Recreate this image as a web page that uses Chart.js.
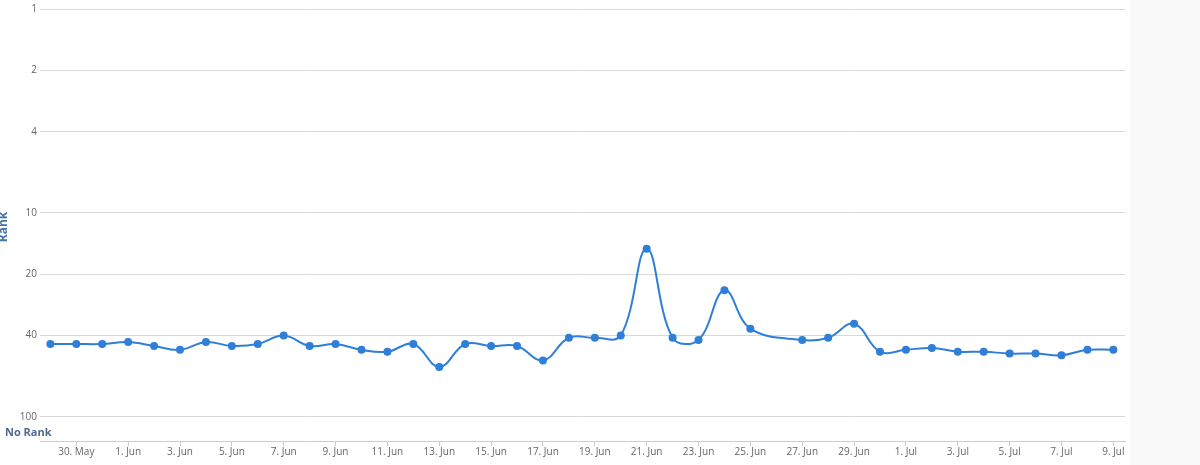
<!DOCTYPE html>
<html>
<head>
<meta charset="utf-8">
<script src="https://cdn.jsdelivr.net/npm/chart.js@4/dist/chart.umd.min.js"></script>
<style>
  html, body { margin: 0; padding: 0; }
  body { background: linear-gradient(to right, #ffffff 1130px, #f9f9f9 1130px); }
  .chart { position: relative; width: 1200px; height: 465px; }
</style>
</head>
<body>
<div class="chart">
  <canvas id="rankChart"></canvas>
</div>
<script>
// one point per day, 29 May .. 9 Jul (26 Jun has no rank)
const dates = [
  '29. May', '30. May', '31. May',
  '1. Jun', '2. Jun', '3. Jun', '4. Jun', '5. Jun', '6. Jun', '7. Jun', '8. Jun', '9. Jun', '10. Jun',
  '11. Jun', '12. Jun', '13. Jun', '14. Jun', '15. Jun', '16. Jun', '17. Jun', '18. Jun', '19. Jun', '20. Jun',
  '21. Jun', '22. Jun', '23. Jun', '24. Jun', '25. Jun', '26. Jun', '27. Jun', '28. Jun', '29. Jun', '30. Jun',
  '1. Jul', '2. Jul', '3. Jul', '4. Jul', '5. Jul', '6. Jul', '7. Jul', '8. Jul', '9. Jul'
];
const ranks = [
  44, 44, 44,
  43, 45, 47, 43, 45, 44, 40, 45, 44, 47,
  48, 44, 57, 44, 45, 45, 53, 41, 41, 40,
  15, 41, 42, 24, 37, null, 42, 41, 35, 48,
  47, 46, 48, 48, 49, 49, 50, 47, 47
];
const rankTicks = [1, 2, 4, 10, 20, 40, 100];
const noRankLabel = 'No Rank';
const noRankValue = 120;

const lineColor = '#2f7ed8';
const axisFont = { family: 'Open Sans, sans-serif', size: 10 };

const extraLabels = {
  id: 'extraLabels',
  afterDraw(chart) {
    const ctx = chart.ctx;
    const y = chart.scales.y;
    ctx.save();
    ctx.font = 'bold 11px Open Sans, sans-serif';
    ctx.fillStyle = '#4d6a8f';
    ctx.textAlign = 'left';
    ctx.textBaseline = 'middle';
    ctx.fillText(noRankLabel, 5, y.getPixelForValue(noRankValue));
    // axis title, half cut off at the left edge
    ctx.translate(7, (chart.chartArea.top + chart.chartArea.bottom) / 2 + 2);
    ctx.rotate(-Math.PI / 2);
    ctx.textAlign = 'center';
    ctx.textBaseline = 'alphabetic';
    ctx.fillStyle = '#4572a7';
    ctx.font = 'bold 12px Open Sans, sans-serif';
    ctx.fillText('Rank', 0, 0);
    ctx.restore();
  }
};

new Chart(document.getElementById('rankChart'), {
  type: 'line',
  data: {
    datasets: [{
      label: 'Rank',
      data: ranks.map((r, i) => ({ x: i, y: r })),
      borderColor: lineColor,
      backgroundColor: lineColor,
      borderWidth: 2,
      pointRadius: 4,
      pointBorderWidth: 0,
      pointBackgroundColor: lineColor,
      tension: 0.4,
      spanGaps: true,
      fill: false
    }]
  },
  options: {
    responsive: true,
    maintainAspectRatio: false,
    animation: false,
    layout: { padding: { top: 8, right: 75, left: 0, bottom: 0 } },
    plugins: {
      legend: { display: false },
      tooltip: { enabled: false }
    },
    scales: {
      x: {
        type: 'linear',
        min: -0.4,
        max: 41.45,
        afterBuildTicks: (scale) => {
          scale.ticks = dates.map((d, i) => i).filter(i => i % 2 === 1).map(v => ({ value: v }));
        },
        afterFit: (scale) => { scale.height = 24; },
        ticks: {
          autoSkip: false,
          maxRotation: 0,
          padding: 0,
          color: '#666666',
          font: axisFont,
          callback: (v) => dates[v]
        },
        grid: {
          drawOnChartArea: false,
          drawTicks: true,
          tickLength: 5,
          color: '#c0d0e0'
        },
        border: { display: true, color: '#c0d0e0', width: 1 }
      },
      y: {
        type: 'logarithmic',
        reverse: true,
        min: 1,
        max: 131.6,
        afterBuildTicks: (scale) => {
          scale.ticks = rankTicks.map(v => ({ value: v }));
        },
        afterFit: (scale) => { scale.width = 40; },
        ticks: {
          padding: 3,
          color: '#666666',
          font: axisFont,
          callback: (v) => String(v)
        },
        grid: {
          color: '#d8d8d8',
          lineWidth: 1,
          drawTicks: false
        },
        border: { display: false }
      }
    }
  },
  plugins: [extraLabels]
});
</script>
</body>
</html>
